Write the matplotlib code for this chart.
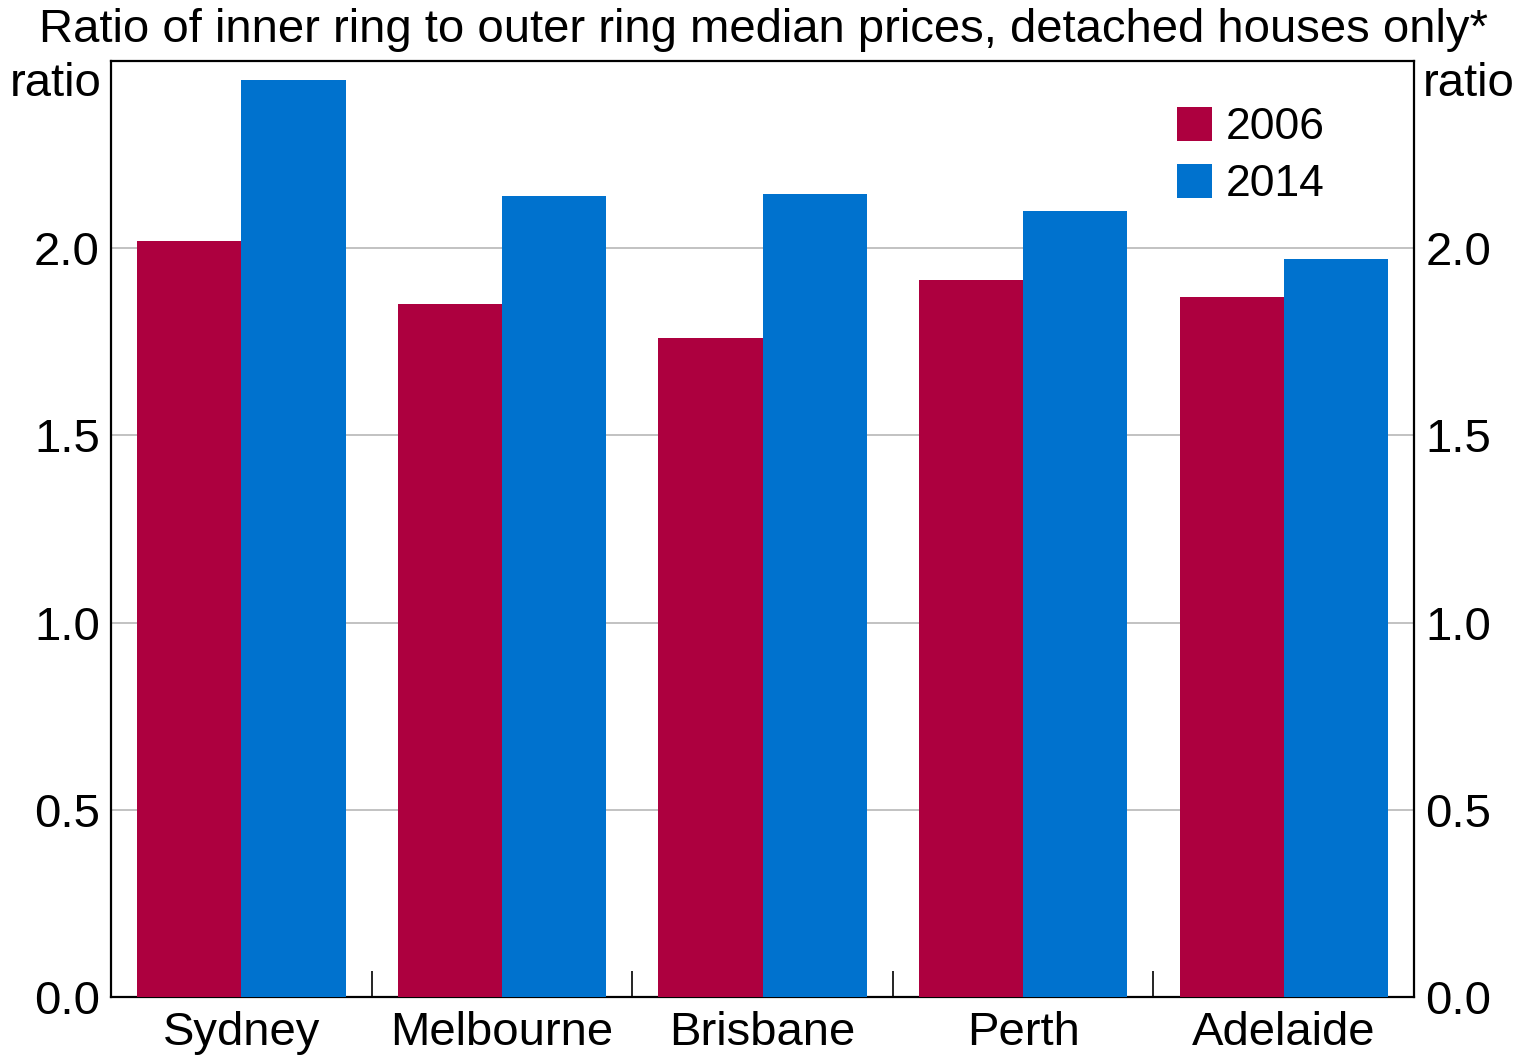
import numpy as np
import matplotlib.pyplot as plt

plt.rcParams['font.family'] = ['Liberation Sans', 'DejaVu Sans']

cities = ["Sydney", "Melbourne", "Brisbane", "Perth", "Adelaide"]
ratio_2006 = [2.02, 1.85, 1.76, 1.915, 1.87]
ratio_2014 = [2.45, 2.14, 2.145, 2.10, 1.97]
yticks = [0.0, 0.5, 1.0, 1.5, 2.0]

fig = plt.figure(figsize=(15.36, 10.58), dpi=100)
ax = fig.add_axes([0.0723, 0.0577, 0.8483, 0.8846])

x = np.arange(len(cities))
w = 0.4
ax.bar(x - w / 2, ratio_2006, width=w, color="#AD003F", label="2006", zorder=3)
ax.bar(x + w / 2, ratio_2014, width=w, color="#0072CE", label="2014", zorder=3)

ax.set_xlim(-0.5, len(cities) - 0.5)
ax.set_ylim(0, 2.5)

# category labels in the middle, tick marks on the boundaries
ax.set_xticks(x)
ax.set_xticklabels(cities, fontsize=34)
ax.tick_params(axis="x", which="major", length=0, pad=10)
ax.set_xticks(np.arange(0.5, len(cities) - 1, 1), minor=True)
ax.tick_params(axis="x", which="minor", direction="in", length=19, width=1.2, color="black")

ax.set_yticks(yticks)
ax.set_yticklabels([f"{v:.1f}" for v in yticks], fontsize=34)
ax.tick_params(axis="y", length=0, pad=8, labelright=True)
ax.grid(axis="y", color="#b8b8b8", linewidth=1.2, zorder=0)

for s in ax.spines.values():
    s.set_linewidth(1.6)

ax.text(-0.007, 0.975, "ratio", transform=ax.transAxes, ha="right", va="center", fontsize=34)
ax.text(1.007, 0.975, "ratio", transform=ax.transAxes, ha="left", va="center", fontsize=34)

fig.text(0.497, 0.972, "Ratio of inner ring to outer ring median prices, detached houses only*",
         ha="center", va="center", fontsize=34)

ax.legend(loc="upper right", bbox_to_anchor=(0.962, 0.994), frameon=False, fontsize=32,
          handlelength=0.8, handleheight=0.8, handletextpad=0.3, labelspacing=0.35)

fig.savefig("out.png", dpi=100)
